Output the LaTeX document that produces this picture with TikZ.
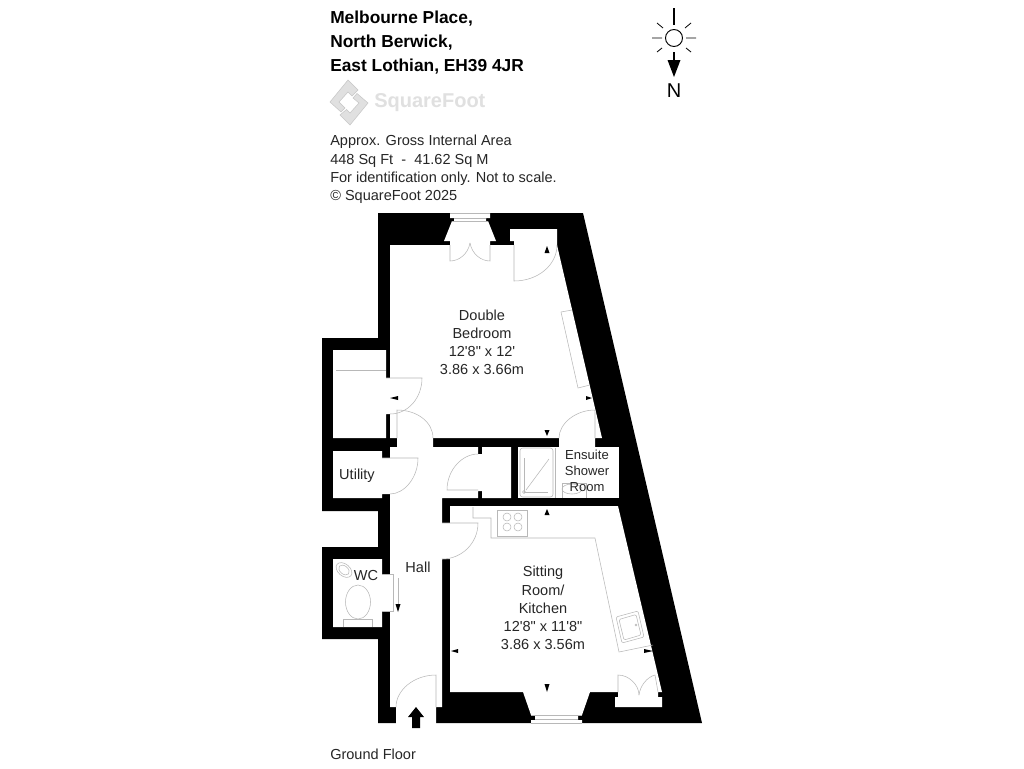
\documentclass[tikz,border=0pt]{standalone}
\usepackage{fontspec}
\setmainfont{Liberation Sans}[Ligatures=TeXOff]
\definecolor{fine}{gray}{0.72}
\definecolor{logofill}{gray}{0.88}
\definecolor{logoline}{gray}{0.78}
\tikzset{
  x=0.75pt,y=-0.75pt,
  wall/.style={fill=black,draw=none},
  room/.style={fill=white,draw=none},
  fineline/.style={draw=fine,line width=0.4pt},
  label/.style={font=\fontsize{10.9pt}{13.6pt}\selectfont,text=black!85,align=center,inner sep=0pt},
  infotext/.style={font=\fontsize{10.9pt}{13.6pt}\selectfont,text=black!85,align=left,anchor=north west,inner sep=0pt},
  titletext/.style={font=\fontsize{13pt}{18pt}\selectfont\bfseries,text=black,align=left,anchor=north west,inner sep=0pt},
  marker/.style={fill=black,draw=none},
  logopart/.style={fill=logofill,draw=logoline,line width=0.4pt}
}
\begin{document}
\begin{tikzpicture}
\useasboundingbox (0,0) rectangle (1024,768);
\fill[white] (0,0) rectangle (1024,768);
% outer footprint
\path[wall] (378,213)--(583,213)--(702,723)--(378,723)--(378,639)--(322,639)--(322,547)--(378,547)--(378,511)--(322,511)--(322,338)--(378,338)--cycle;
% bedroom
\path[room] (390,245)--(450,245)--(450,241)--(444,241)--(452,221)--(454,221)--(454,218)--(450,218)--(450,212)--(490,212)--(490,218)--(486,218)--(486,221)--(488,221)--(496,241)--(490,241)--(490,245)--(514,245)--(514,241)--(510,241)--(510,229)--(557,229)--(557,245)--(602,438)--(595,438)--(595,448)--(559,448)--(559,438)--(390,438)--cycle;
% store cupboard
\path[room] (333,350)--(386,350)--(386,378)--(391,378)--(391,414)--(386,414)--(386,438)--(333,438)--cycle;
% utility
\path[room] (333,451)--(382,451)--(382,458)--(391,458)--(391,494)--(382,494)--(382,498)--(333,498)--cycle;
% wc
\path[room] (333,559)--(382,559)--(382,574)--(391,574)--(391,611)--(382,611)--(382,627)--(333,627)--cycle;
% hall and cupboard
\path[room] (390,447)--(390,707)--(396,707)--(396,724)--(436,724)--(436,707)--(442,707)--(442,559)--(451,559)--(451,523)--(442,523)--(442,498)--(478,498)--(478,491)--(482,491)--(482,498)--(511,498)--(511,447)--(482,447)--(482,454)--(478,454)--(478,447)--(433,447)--(433,437)--(397,437)--(397,447)--cycle;
% ensuite
\path[room] (518,447)--(619,447)--(619,498)--(518,498)--cycle;
% sitting room
\path[room] (450,506)--(618,506)--(662,692)--(658,692)--(658,697)--(662,697)--(662,707)--(615,707)--(615,697)--(618,697)--(618,692)--(590,692)--(582,715)--(578,715)--(578,720)--(582,720)--(582,724)--(531,724)--(531,720)--(535,720)--(535,715)--(531,715)--(523,692)--(450,692)--cycle;
% window glazing
\draw[fineline] (450,213)--(490,213) (454,218)--(486,218) (452,221)--(488,221);
\draw[fineline] (531,715)--(582,715) (535,719)--(578,719) (531,723)--(582,723);
% bedroom french doors
\draw[fineline] (450,245)--(450,261) .. controls (459,261) and (468,254) .. (470,243);
\draw[fineline] (490,245)--(490,261) .. controls (481,261) and (472,254) .. (470,243);
% wardrobe door
\draw[fineline] (514,245)--(514,281) .. controls (538,281) and (557,265) .. (557,245);
% cupboard door
\draw[fineline] (386,378)--(422,378) .. controls (422,398) and (408,414) .. (390,414);
\draw[fineline] (336,370)--(386,370);
% hall door to bedroom
\draw[fineline] (397,438)--(397,410) .. controls (417,410) and (433,422) .. (433,438);
% utility door
\draw[fineline] (382,458)--(418,458) .. controls (418,478) and (404,494) .. (390,494);
% hall cupboard door
\draw[fineline] (478,490)--(447,490) .. controls (447,470) and (462,454) .. (478,454);
% sitting room door
\draw[fineline] (442,523)--(478,523) .. controls (478,543) and (462,559) .. (442,559);
% wc door
\draw[fineline] (382,574)--(393,574)--(393,611)--(382,611);
\draw[fineline] (398,578)--(398,606);
% entrance door
\draw[fineline] (436,707)--(436,675) .. controls (414,675) and (396,690) .. (396,707);
% ensuite door
\draw[fineline] (595,438)--(595,410) .. controls (575,410) and (559,424) .. (559,438);
% sitting room cupboard doors
\draw[fineline] (618,692)--(618,675) .. controls (629,675) and (639,685) .. (639,695);
\draw[fineline] (658,692)--(655,675) .. controls (647,677) and (640,686) .. (639,695);
% bedroom radiator unit
\draw[fineline] (561,312)--(572,310);
\draw[fineline] (561,312)--(578,388)--(590,385);
% shower
\draw[fineline,rounded corners=2pt] (520,448) rectangle (553,497);
\draw[fineline] (555,448)--(555,498);
\draw[fineline] (524,458)--(524,492)--(548,492);
\draw[fineline] (526,490)--(549,459);
\draw[fineline] (524,492) circle (1.5);
% ensuite basin
\draw[fineline] (562,498)--(562,483)--(586,483)--(586,498);
\draw[fineline] (572,489) ellipse (10 and 5);
% kitchen counter
\draw[fineline] (473,507)--(473,518)--(491,518)--(491,538)--(595,538)--(619,652)--(653,645);
\draw[fineline] (497,510) rectangle (527,536);
\foreach \cx/\cy in {507/517,518/517,507/527,518/527}{\draw[fineline] (\cx,\cy) circle (4);}
% sink
\draw[fineline,rounded corners=1pt] (616,617)--(638,611)--(644,637)--(622,643)--cycle;
\draw[fineline,rounded corners=1pt] (619,619.5)--(636,614.5)--(641,635)--(624,640)--cycle;
\draw[fineline] (636,625) circle (1);
% wc fittings
\draw[fineline,rotate around={-40:(344,570)}] (344,570) ellipse (9 and 6);
\draw[fineline,rotate around={-40:(344,570)}] (344,570) ellipse (6 and 4);
\draw[fineline] (358,602) ellipse (12.5 and 17);
\draw[fineline] (343,627)--(343,619)--(372,619)--(372,627);
% dimension markers
\path[marker] (547,246)--(549.5,253)--(544.5,253)--cycle;
\path[marker] (390,398)--(398,396)--(398,400)--cycle;
\path[marker] (592,398)--(586,396)--(586,400)--cycle;
\path[marker] (547,436)--(544.5,430)--(549.5,430)--cycle;
\path[marker] (547,509)--(549.5,515)--(544.5,515)--cycle;
\path[marker] (398,612)--(395.5,604)--(400.5,604)--cycle;
\path[marker] (451,651)--(458,649)--(458,653)--cycle;
\path[marker] (653,651)--(644,649)--(644,653)--cycle;
\path[marker] (547,692)--(544.5,684)--(549.5,684)--cycle;
% entrance arrow
\path[fill=black] (416,707)--(424,717)--(420,717)--(420,728)--(412,728)--(412,717)--(408,717)--cycle;
% compass
\draw[line width=0.7pt] (674,38) circle (8.5);
\draw[line width=1.2pt] (674,8)--(674,25);
\draw[line width=0.6pt] (652,38)--(662,38) (686,38)--(696,38) (657,23)--(663,28) (691,23)--(685,28) (657,52)--(662,48) (691,52)--(686,48);
\draw[line width=1.2pt] (674,52)--(674,62);
\path[fill=black] (674,77)--(667.5,60)--(680.5,60)--cycle;
\node[font=\fontsize{15pt}{15pt}\selectfont,inner sep=0pt] (north) at (674,91) {N};
% logo
\path[logopart] (348,80)--(358,90)--(352,96)--(348,92)--(339,102)--(345,108)--(341,112)--(330,102)--cycle;
\path[logopart] (350,125)--(340,115)--(346.5,109.5)--(350,113)--(359,103)--(353,98)--(357,93.5)--(368,103)--cycle;
\node[font=\fontsize{15pt}{16pt}\selectfont\bfseries,text=logofill,anchor=west,inner sep=0pt] (brand) at (374,103) {SquareFoot};
% texts
\node[titletext] (title) at (330,11) {Melbourne Place,\\North Berwick,\\East Lothian, EH39 4JR};
\node[infotext,font=\fontsize{10.9pt}{13.7pt}\selectfont] (info) at (330,135) {Approx. Gross Internal Area\\448 Sq Ft\ \ -\ \ 41.62 Sq M\\For identification only. Not to scale.\\© SquareFoot 2025};
\node[label] (bed) at (482,342) {Double\\Bedroom\\12'8" x 12'\\3.86 x 3.66m};
\node[label,font=\fontsize{9.8pt}{12pt}\selectfont] (ens) at (587,471) {Ensuite\\Shower\\Room};
\node[label] (sit) at (543,608) {Sitting\\Room/\\Kitchen\\12'8" x 11'8"\\3.86 x 3.56m};
\node[label] (util) at (357,476) {Utility};
\node[label] (wcl) at (366,575) {WC};
\node[label] (hall) at (418,567) {Hall};
\node[infotext] (floor) at (330,749) {Ground Floor};
\end{tikzpicture}
\end{document}
